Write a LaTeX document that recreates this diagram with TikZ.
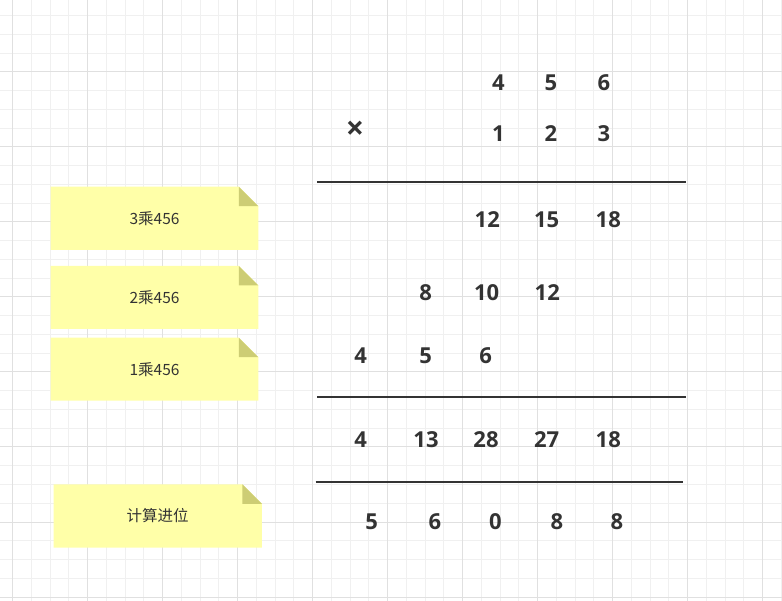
\documentclass[tikz,border=0pt]{standalone}
\usepackage{fontspec}
\setmainfont{Open Sans}
\newfontfamily\cjk{Noto Sans CJK SC}
\definecolor{ink}{HTML}{333333}
\definecolor{gridminor}{HTML}{F0F0F0}
\definecolor{gridmajor}{HTML}{E0E0E0}
\definecolor{notefill}{HTML}{FFFFA8}
\definecolor{notefold}{HTML}{CDCD74}
\tikzset{
  num/.style={font=\bfseries\fontsize{22}{26}\selectfont, text=ink, inner sep=0pt, anchor=center},
  bigtimes/.style={font=\bfseries\fontsize{32}{36}\selectfont, text=ink, inner sep=0pt, anchor=center},
  notetext/.style={font=\cjk\fontsize{15.5}{19}\selectfont, text=ink, inner sep=0pt, anchor=center},
  rule/.style={draw=ink, line width=2pt},
}
\newcommand{\stickynote}[4]{% x0 y0 x1 y1
  \fill[notefill] (#1,#2) -- ({#3-19.5},#2) -- (#3,{#2+19.5}) -- (#3,#4) -- (#1,#4) -- cycle;
  \fill[notefold] ({#3-19.5},#2) -- ({#3-19.5},{#2+19.5}) -- (#3,{#2+19.5}) -- cycle;
}
\begin{document}
\begin{tikzpicture}[x=1pt,y=-1pt]
\useasboundingbox (0,0) rectangle (782,601);
\fill[white] (0,0) rectangle (782,601);
% grid
\foreach \i in {0,...,41} {
  \draw[gridminor, line width=1pt] ({12.7+18.75*\i},0) -- ({12.7+18.75*\i},601);
}
\foreach \i in {0,...,32} {
  \draw[gridminor, line width=1pt] (0,{-3+18.75*\i}) -- (782,{-3+18.75*\i});
}
\foreach \i in {0,...,10} {
  \draw[gridmajor, line width=1pt] ({12.7+75*\i},0) -- ({12.7+75*\i},601);
}
\foreach \i in {0,...,8} {
  \draw[gridmajor, line width=1pt] (0,{-3+75*\i}) -- (782,{-3+75*\i});
}
% notes
\stickynote{50.7}{186.7}{258.3}{250}
\node[notetext] (n1) at (154.5,218.3) {3乘456};
\stickynote{50.7}{266}{258.3}{329}
\node[notetext] (n2) at (154.5,297.5) {2乘456};
\stickynote{50.7}{337.7}{258.3}{400.7}
\node[notetext] (n3) at (154.5,369.2) {1乘456};
\stickynote{53.5}{484.3}{261.8}{547.7}
\node[notetext] (n4) at (157.6,516) {计算进位};
% rules
\draw[rule] (317.3,182.3) -- (685.7,182.3);
\draw[rule] (317.3,397.3) -- (685.7,397.3);
\draw[rule] (315.7,481.7) -- (682.7,481.7);
% row 1
\node[num] (a1) at (498.3,82.3) {4};
\node[num] (a2) at (551,82.3) {5};
\node[num] (a3) at (604,82.3) {6};
% row 2
\node[bigtimes] (times) at (355,130.7) {×};
\node[num] (b1) at (498.3,134) {1};
\node[num] (b2) at (551,134) {2};
\node[num] (b3) at (604,134) {3};
% row 3
\node[num] (c1) at (487.3,219.3) {12};
\node[num] (c2) at (546.7,219.3) {15};
\node[num] (c3) at (608.3,219.3) {18};
% row 4
\node[num] (d1) at (425.7,292.3) {8};
\node[num] (d2) at (486.7,292.3) {10};
\node[num] (d3) at (547.3,292.3) {12};
% row 5
\node[num] (e1) at (360.7,355.7) {4};
\node[num] (e2) at (425.7,355.7) {5};
\node[num] (e3) at (485.7,355.7) {6};
% row 6
\node[num] (f1) at (360.7,440) {4};
\node[num] (f2) at (426,440) {13};
\node[num] (f3) at (486,440) {28};
\node[num] (f4) at (546.7,440) {27};
\node[num] (f5) at (608.3,440) {18};
% row 7
\node[num] (g1) at (371.6,521.7) {5};
\node[num] (g2) at (434.8,521.7) {6};
\node[num] (g3) at (495.4,521.7) {0};
\node[num] (g4) at (556.8,521.7) {8};
\node[num] (g5) at (617,521.7) {8};
\end{tikzpicture}
\end{document}
